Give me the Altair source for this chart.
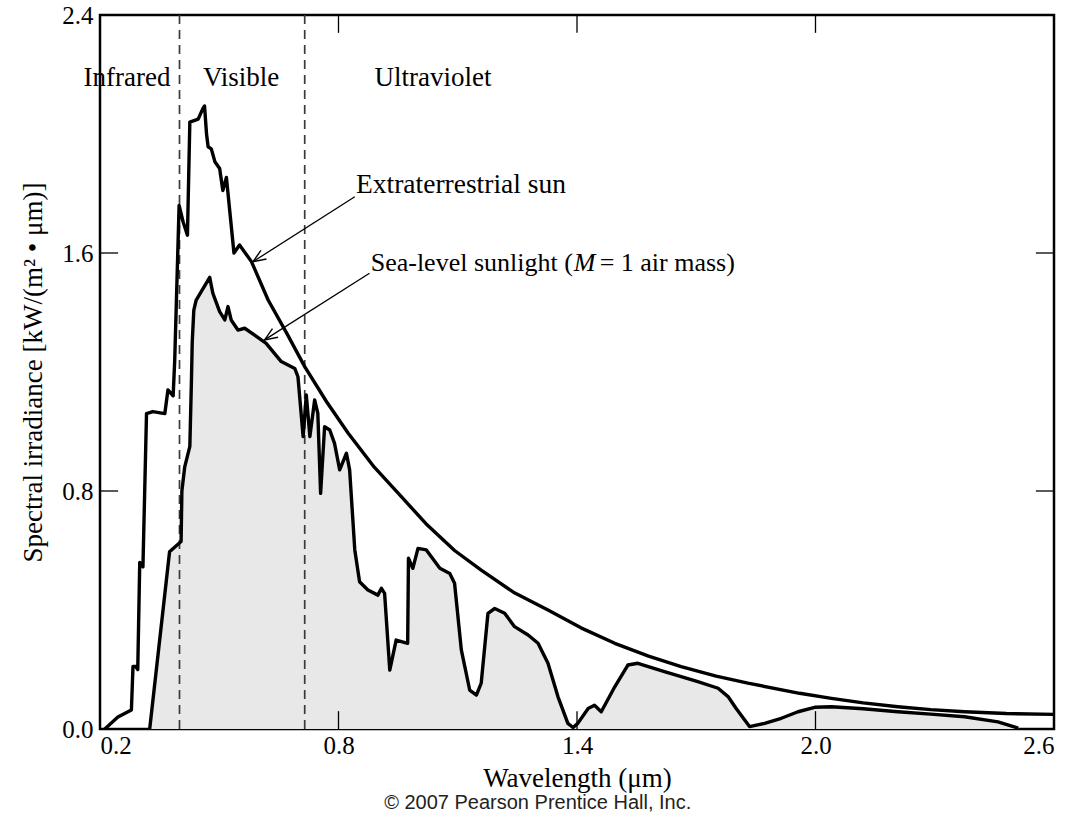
import altair as alt
import pandas as pd

# ---------------- data ----------------
ext_x = [0.212, 0.245, 0.279, 0.283, 0.290, 0.295, 0.300, 0.308, 0.317, 0.333,
         0.363, 0.371, 0.384, 0.388, 0.399, 0.409, 0.420, 0.426, 0.447, 0.459,
         0.463, 0.468, 0.472, 0.480, 0.489, 0.501, 0.509, 0.518, 0.537, 0.551,
         0.581, 0.623, 0.670, 0.715, 0.770, 0.824, 0.890, 0.950, 1.020, 1.092,
         1.159, 1.240, 1.327, 1.410, 1.495, 1.580, 1.662, 1.750, 1.830, 1.960,
         2.040, 2.120, 2.207, 2.290, 2.375, 2.480, 2.600]
ext_y = [0.000, 0.040, 0.064, 0.210, 0.210, 0.200, 0.560, 0.545, 1.060, 1.067,
         1.060, 1.140, 1.120, 1.240, 1.760, 1.705, 1.660, 2.040, 2.050, 2.086,
         2.094, 2.000, 1.957, 1.950, 1.907, 1.884, 1.810, 1.854, 1.600, 1.627,
         1.571, 1.442, 1.330, 1.218, 1.100, 0.995, 0.880, 0.793, 0.690, 0.600,
         0.534, 0.460, 0.400, 0.340, 0.288, 0.245, 0.210, 0.178, 0.154, 0.120,
         0.103, 0.088, 0.075, 0.065, 0.058, 0.052, 0.049]

sea_x = [0.325, 0.375, 0.404, 0.406, 0.413, 0.426, 0.430, 0.432, 0.436, 0.442,
         0.476, 0.484, 0.501, 0.514, 0.522, 0.530, 0.547, 0.564, 0.589, 0.618,
         0.656, 0.690, 0.698, 0.711, 0.719, 0.728, 0.740, 0.748, 0.755, 0.765,
         0.778, 0.790, 0.803, 0.820, 0.828, 0.841, 0.853, 0.874, 0.899, 0.908,
         0.916, 0.929, 0.945, 0.974, 0.976, 0.987, 1.000, 1.021, 1.055, 1.080,
         1.092, 1.109, 1.130, 1.147, 1.159, 1.176, 1.193, 1.218, 1.243, 1.277,
         1.302, 1.327, 1.352, 1.377, 1.390, 1.402, 1.428, 1.444, 1.461, 1.495,
         1.528, 1.553, 1.620, 1.704, 1.755, 1.780, 1.800, 1.834, 1.872, 1.914,
         1.956, 1.998, 2.040, 2.120, 2.207, 2.290, 2.375, 2.459, 2.510]
sea_y = [0.000, 0.596, 0.630, 0.800, 0.880, 0.950, 1.170, 1.300, 1.408, 1.442,
         1.518, 1.464, 1.403, 1.375, 1.420, 1.375, 1.341, 1.347, 1.324, 1.296,
         1.235, 1.212, 1.184, 0.983, 1.123, 0.983, 1.106, 1.061, 0.792, 1.016,
         1.005, 0.960, 0.871, 0.927, 0.871, 0.602, 0.495, 0.467, 0.450, 0.473,
         0.456, 0.198, 0.299, 0.288, 0.574, 0.540, 0.607, 0.602, 0.540, 0.523,
         0.490, 0.266, 0.131, 0.114, 0.154, 0.389, 0.405, 0.389, 0.344, 0.316,
         0.288, 0.221, 0.109, 0.019, 0.005, 0.019, 0.069, 0.080, 0.058, 0.142,
         0.215, 0.221, 0.193, 0.159, 0.137, 0.109, 0.070, 0.008, 0.019, 0.036,
         0.058, 0.073, 0.075, 0.068, 0.058, 0.050, 0.041, 0.024, 0.003]

x_ticks = [0.2, 0.8, 1.4, 2.0, 2.6]
y_ticks = [0.0, 0.8, 1.6, 2.4]
band_x = [0.40, 0.715]
region_labels = ["Infrared", "Visible", "Ultraviolet"]
region_x = [0.268, 0.555, 1.038]
region_y = 2.188

ann_ext = "Extraterrestrial sun"
ann_sea_parts = ["Sea-level sunlight (", "M", "= 1 air mass)"]

# ---------------- helpers ----------------
XMIN, XMAX = x_ticks[0], x_ticks[-1]
YMIN, YMAX = y_ticks[0], y_ticks[-1]
SERIF = "Liberation Serif"
XTITLE = "Wavelength (μm)"
YTITLE = "Spectral irradiance [kW/(m² • μm)]"

xscale = alt.Scale(domain=[XMIN, XMAX], nice=False, zero=False)
yscale = alt.Scale(domain=[YMIN, YMAX], nice=False, zero=False)
axis_style = dict(ticks=False, domain=False, grid=False,
                  labelFont=SERIF, labelFontSize=25, labelColor="black",
                  titleFont=SERIF, titleFontSize=27, titleFontWeight="normal",
                  titleColor="black")
xaxis = alt.Axis(values=x_ticks, format=".1f", title=XTITLE,
                 labelPadding=4, titlePadding=7, **axis_style)
yaxis = alt.Axis(values=y_ticks, format=".1f", title=YTITLE,
                 labelPadding=7, titlePadding=14, **axis_style)


def X(f="x"):
    return alt.X(f"{f}:Q", scale=xscale, axis=xaxis, title=XTITLE)


def Y(f="y"):
    return alt.Y(f"{f}:Q", scale=yscale, axis=yaxis, title=YTITLE)


ext_df = pd.DataFrame({"x": ext_x, "y": ext_y})
sea_df = pd.DataFrame({"x": sea_x, "y": sea_y})

area = alt.Chart(sea_df).mark_area(color="#e8e8e8", opacity=1).encode(x=X(), y=Y())

dash_df = pd.DataFrame({"x": band_x, "y": [YMIN] * 2, "y2": [YMAX] * 2})
dashed = alt.Chart(dash_df).mark_rule(
    color="#3a3a3a", strokeWidth=1.7, strokeDash=[9, 6]
).encode(x=X(), y=Y(), y2=alt.Y2("y2"))

ext_line = alt.Chart(ext_df).mark_line(
    color="black", strokeWidth=3.4, strokeJoin="round"
).encode(x=X(), y=Y())
sea_line = alt.Chart(sea_df).mark_line(
    color="black", strokeWidth=3.4, strokeJoin="round"
).encode(x=X(), y=Y())

# inward tick marks on all four sides
tlx = (XMAX - XMIN) * 0.019
tly = (YMAX - YMIN) * 0.025
rows = []
for v in x_ticks[1:-1]:
    rows.append({"x": v, "x2": v, "y": YMIN, "y2": YMIN + tly})
    rows.append({"x": v, "x2": v, "y": YMAX, "y2": YMAX - tly})
for v in y_ticks[1:-1]:
    rows.append({"x": XMIN, "x2": XMIN + tlx, "y": v, "y2": v})
    rows.append({"x": XMAX, "x2": XMAX - tlx, "y": v, "y2": v})
ticks = alt.Chart(pd.DataFrame(rows)).mark_rule(color="black", strokeWidth=1.3).encode(
    x=X(), x2=alt.X2("x2"), y=Y(), y2=alt.Y2("y2"))

# annotation arrows (start near label, end at curve)
arrow_df = pd.DataFrame({
    "x": [0.841, 0.878], "y": [1.789, 1.532],
    "x2": [0.585, 0.614], "y2": [1.571, 1.308],
})
arrows = alt.Chart(arrow_df).mark_rule(color="black", strokeWidth=1.3).encode(
    x=X(), x2=alt.X2("x2"), y=Y(), y2=alt.Y2("y2"))
heads = alt.Chart(arrow_df).mark_point(
    shape="M-0.4,1 L0,0 L0.4,1", filled=False, color="black",
    strokeWidth=1.4, size=650, angle=237, opacity=1
).encode(x=X("x2"), y=Y("y2"))

reg_df = pd.DataFrame({"x": region_x, "y": [region_y] * 3, "t": region_labels})
reg_text = alt.Chart(reg_df).mark_text(
    font=SERIF, fontSize=27, color="black", align="center", baseline="middle"
).encode(x=X(), y=Y(), text="t:N")

ann_df = pd.DataFrame({"x": [0.844], "y": [1.829], "t": [ann_ext]})
ann1 = alt.Chart(ann_df).mark_text(
    font=SERIF, fontSize=27.5, color="black", align="left", baseline="middle"
).encode(x=X(), y=Y(), text="t:N")

sea_ann_df = pd.DataFrame({"x": [0.881, 1.392, 1.457], "y": [1.566] * 3,
                           "t": ann_sea_parts, "st": ["normal", "italic", "normal"]})
ann2a = alt.Chart(sea_ann_df).transform_filter(alt.datum.st == "normal").mark_text(
    font=SERIF, fontSize=26, color="black", align="left", baseline="middle"
).encode(x=X(), y=Y(), text="t:N")
ann2b = alt.Chart(sea_ann_df).transform_filter(alt.datum.st == "italic").mark_text(
    font=SERIF, fontSize=26, fontStyle="italic", color="black", align="left",
    baseline="middle"
).encode(x=X(), y=Y(), text="t:N")

chart = alt.layer(
    area, dashed, ext_line, sea_line, ticks, arrows, heads,
    reg_text, ann1, ann2a, ann2b
).properties(
    width=954, height=714, background="white",
    padding={"left": 19, "top": 3, "right": 5, "bottom": 5},
    title=alt.TitleParams(
        text="© 2007 Pearson Prentice Hall, Inc.", orient="bottom",
        anchor="middle", frame="bounds",
        font="Liberation Sans",
        fontSize=20, fontWeight="normal", color="#222", offset=2),
).configure_view(
    stroke="black", strokeWidth=2.5
)

chart.save("out.html", embed_options={"renderer": "svg", "actions": False})
